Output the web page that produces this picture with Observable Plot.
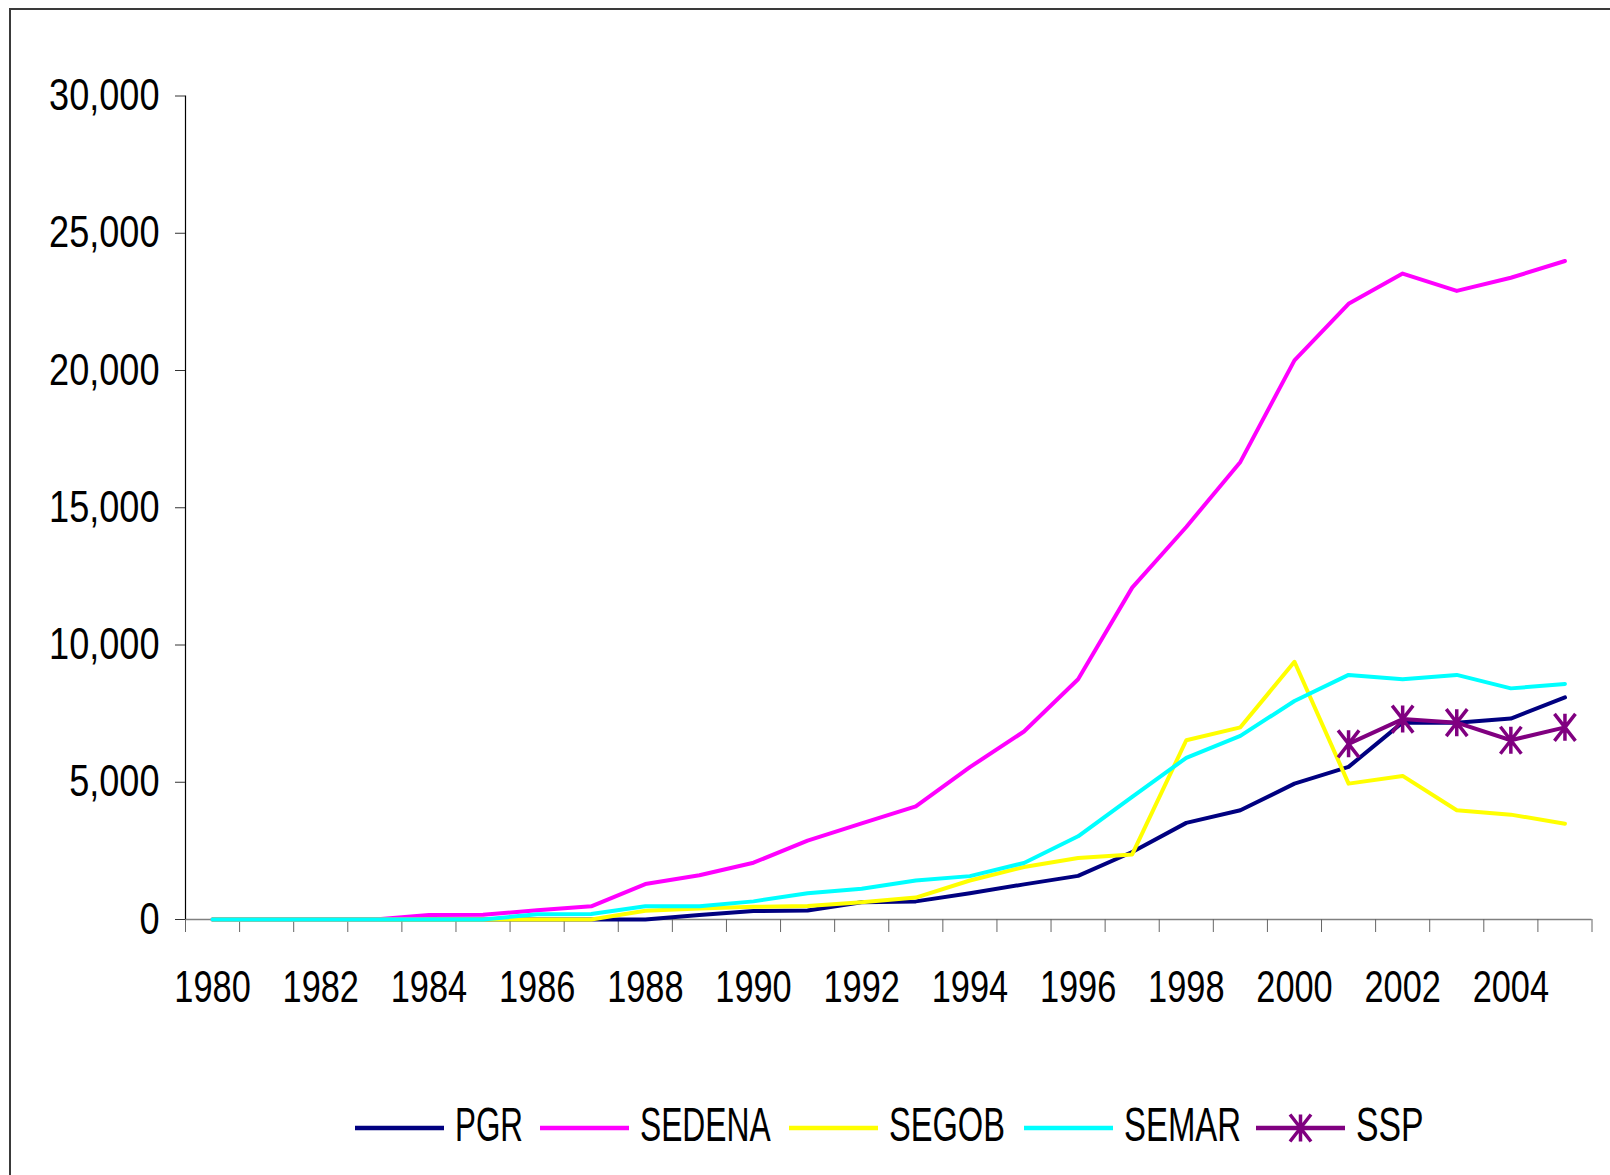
<!DOCTYPE html>
<html>
<head>
<meta charset="utf-8">
<script src="https://cdn.jsdelivr.net/npm/d3@7"></script>
<script src="https://cdn.jsdelivr.net/npm/@observablehq/plot@0.6"></script>
<style>
  html, body { margin: 0; padding: 0; background: #fff; }
  #wrap { position: relative; width: 1610px; height: 1175px; overflow: hidden; font-family: "Liberation Sans", Arial, sans-serif; }
  #frame { position: absolute; left: 9px; top: 8px; width: 1700px; height: 1300px; border-top: 2px solid #3a3a3a; border-left: 2px solid #3a3a3a; pointer-events: none; }
  #chart, #legend { position: absolute; left: 0; }
  #chart { top: 0; }
  #legend { top: 1060px; }
</style>
</head>
<body>
<div id="wrap">
  <div id="chart"></div>
  <div id="legend"></div>
  <div id="frame"></div>
</div>
<script>
const years = d3.range(1980, 2006);
const seriesNames = ["PGR", "SEDENA", "SEGOB", "SEMAR", "SSP"];
const seriesColors = ["#000080", "#FF00FF", "#FFFF00", "#00FFFF", "#800080"];

const PGR    = [0,0,0,0,0,0,0,0,0,160,310,330,630,660,960,1280,1590,2460,3520,3980,4950,5560,7180,7170,7320,8090];
const SEDENA = [0,0,0,0,160,170,340,480,1290,1610,2070,2870,3500,4120,5550,6850,8750,12090,14300,16670,20370,22430,23530,22900,23380,23990];
const SEGOB  = [0,0,0,0,0,0,0,0,320,400,460,490,630,800,1420,1910,2240,2370,6530,7000,9390,4950,5230,3980,3820,3490];
const SEMAR  = [0,0,0,0,0,0,190,200,480,480,660,960,1120,1420,1580,2060,3030,4470,5890,6690,7960,8910,8750,8910,8420,8580];
const sspYears = [2001, 2002, 2003, 2004, 2005];
const SSP    = [6400, 7300, 7170, 6530, 7000];

const yTicks = [0, 5000, 10000, 15000, 20000, 25000, 30000];
const xLabelYears = d3.range(1980, 2005, 2);

const lineSeries = { PGR, SEDENA, SEGOB, SEMAR };
const table = [];
for (const name of ["PGR", "SEDENA", "SEGOB", "SEMAR"]) {
  years.forEach((yr, i) => table.push({ series: name, year: yr, value: lineSeries[name][i] }));
}
const sspTable = sspYears.map((yr, i) => ({ series: "SSP", year: yr, value: SSP[i] }));

const colorOf = Object.fromEntries(seriesNames.map((n, i) => [n, seriesColors[i]]));

// Excel-like "star" marker: vertical bar + two diagonals
const MW = 10.5, MH = 13.5;
const asterisk = {
  draw(ctx, size) {
    ctx.moveTo(0, -MH); ctx.lineTo(0, MH);
    ctx.moveTo(-MW, -MH); ctx.lineTo(MW, MH);
    ctx.moveTo(MW, -MH); ctx.lineTo(-MW, MH);
  }
};

const W = 1610, H = 1060;
const plot = Plot.plot({
  width: W,
  height: H,
  marginLeft: 185,
  marginRight: 18.5,
  marginTop: 95.5,
  marginBottom: H - 919,
  style: { fontFamily: '"Liberation Sans", Arial, sans-serif', color: "#000", background: "transparent", overflow: "visible" },
  x: { domain: [1979.5, 2005.5] },
  y: { domain: [0, 30000] },
  marks: [
    Plot.ruleY([0], { stroke: "#808080", strokeWidth: 1.5 }),
    Plot.ruleX([1979.5], { y1: 0, y2: 30000, stroke: "#000", strokeWidth: 1.2 }),
    Plot.axisY({ ticks: yTicks, tickFormat: d3.format(","), tickSize: 10, tickPadding: 16, fontSize: 44, stroke: "#333", label: null }),
    Plot.axisX({ ticks: d3.range(1979.5, 2006, 1), tickSize: 13, tickFormat: () => "", stroke: "#666", label: null }),
    Plot.axisX({ ticks: xLabelYears, tickSize: 0, tickPadding: 51, tickFormat: d => String(d), fontSize: 44, label: null }),
    Plot.line(table, { x: "year", y: "value", z: "series", stroke: d => colorOf[d.series], strokeWidth: 4, strokeLinejoin: "round", strokeLinecap: "round" }),
    Plot.line(sspTable, { x: "year", y: "value", stroke: colorOf.SSP, strokeWidth: 4, strokeLinejoin: "round" }),
    Plot.dot(sspTable, { x: "year", y: "value", symbol: asterisk, r: 10, stroke: colorOf.SSP, strokeWidth: 3.5, fill: "none" })
  ]
});
document.getElementById("chart").appendChild(plot);

// compress tick labels horizontally (Arial Narrow look)
function squeeze(sel, ratio) {
  plot.querySelectorAll(sel).forEach(t => {
    const w = t.getComputedTextLength();
    if (w > 0) {
      t.setAttribute("textLength", (w * ratio).toFixed(1));
      t.setAttribute("lengthAdjust", "spacingAndGlyphs");
    }
  });
}
squeeze('g[aria-label="y-axis tick label"] text', 0.82);
squeeze('g[aria-label="x-axis tick label"] text', 0.78);

// legend
const legendLayout = [
  { x: 355, tw: 68 },
  { x: 540, tw: 130.6 },
  { x: 789, tw: 116 },
  { x: 1024, tw: 117 },
  { x: 1256, tw: 67.6 }
];
const lg = d3.select("#legend").append("svg").attr("width", W).attr("height", 115);
const ly = 68, lineLen = 89;
seriesNames.forEach((name, i) => {
  const L = legendLayout[i];
  lg.append("line").attr("x1", L.x).attr("x2", L.x + lineLen).attr("y1", ly).attr("y2", ly)
    .attr("stroke", seriesColors[i]).attr("stroke-width", 4.5);
  if (name === "SSP") {
    const cx = L.x + lineLen / 2;
    lg.append("path").attr("d", `M${cx},${ly-MH}L${cx},${ly+MH}M${cx-MW},${ly-MH}L${cx+MW},${ly+MH}M${cx+MW},${ly-MH}L${cx-MW},${ly+MH}`)
      .attr("stroke", seriesColors[i]).attr("stroke-width", 3.5).attr("fill", "none");
  }
  lg.append("text").attr("x", L.x + lineLen + 11).attr("y", 80.7)
    .attr("font-family", '"Liberation Sans", Arial, sans-serif').attr("font-size", 47.5).attr("fill", "#000")
    .attr("textLength", L.tw).attr("lengthAdjust", "spacingAndGlyphs")
    .text(name);
});
</script>
</body>
</html>
